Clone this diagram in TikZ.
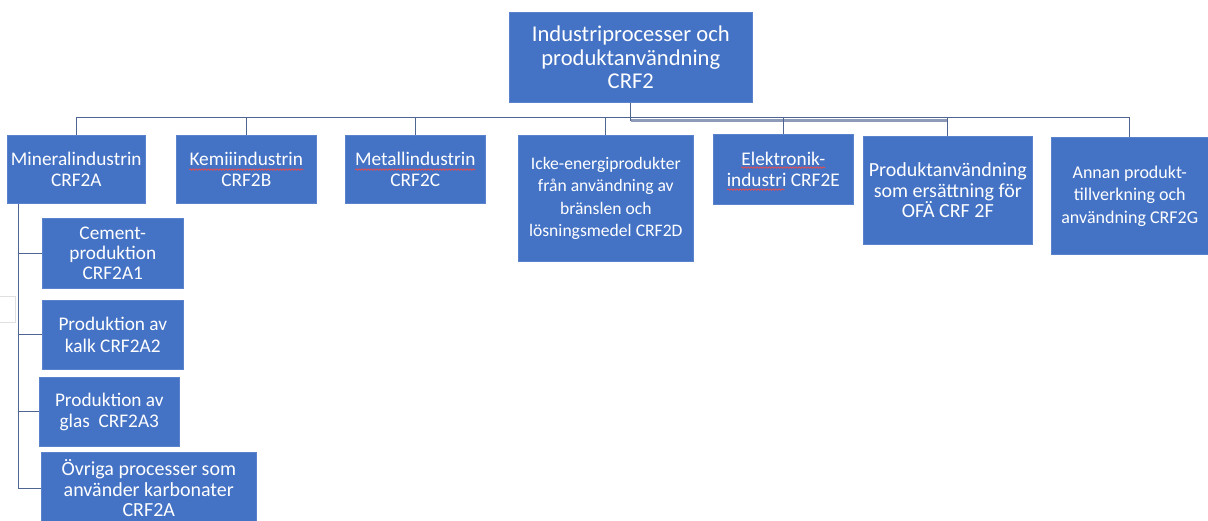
\documentclass[tikz,border=0pt]{standalone}
\usepackage{fontspec}
\setmainfont{Carlito}
\usetikzlibrary{calc,decorations.pathmorphing}
\definecolor{boxblue}{HTML}{4472C4}
\definecolor{boxedge}{HTML}{5B82CC}
\definecolor{connc}{HTML}{4E6491}
\definecolor{busgray}{HTML}{8E9BB8}
\definecolor{spellred}{HTML}{D8505A}
\tikzset{
  box/.style={draw=boxedge, line width=0.6pt, fill=boxblue, text=white, align=center,
    anchor=north west, inner sep=0pt, font=\fontsize{19.3}{21.5}\selectfont},
  topbox/.style={box, font=\fontsize{22.6}{23.8}\selectfont},
  conn/.style={draw=connc, line width=1pt},
  faint/.style={draw=black!12, line width=1pt},
  spellmark/.style={draw=spellred, line width=0.9pt, decorate,
    decoration={snake, amplitude=0.7pt, segment length=3pt}},
}
\begin{document}
\begin{tikzpicture}[x=1pt,y=-1pt]
\useasboundingbox (0,0) rectangle (1208,521);
% boxes
\node[topbox, minimum width=243pt, minimum height=90pt] (top) at (509,12)
  {Industriprocesser och\\produktanvändning\\CRF2};
\node[box, minimum width=138pt, minimum height=68pt] (min) at (7,135)
  {Mineralindustrin\\CRF2A};
\node[box, minimum width=140pt, minimum height=68pt] (kem) at (176,135)
  {Kemiiindustrin\\CRF2B};
\node[box, minimum width=140pt, minimum height=68pt] (met) at (345,135)
  {Metallindustrin\\CRF2C};
\node[box, minimum width=175pt, minimum height=126pt, font=\fontsize{17.6}{22.3}\selectfont] (ick) at (518,135)
  {Icke-energiprodukter\\från användning av\\bränslen och\\lösningsmedel CRF2D};
\node[box, minimum width=140pt, minimum height=70pt] (ele) at (713,134)
  {Elektronik-\\industri CRF2E};
\node[box, minimum width=169pt, minimum height=108pt, font=\fontsize{20}{20.5}\selectfont] (pro) at (863,136)
  {Produktanvändning\\som ersättning för\\OFÄ CRF 2F};
\node[box, minimum width=157pt, minimum height=117pt, font=\fontsize{18}{22.5}\selectfont] (ann) at (1051,137)
  {Annan produkt-\\tillverkning och\\användning CRF2G};
\node[box, minimum width=141pt, minimum height=70pt, font=\fontsize{19.3}{20.2}\selectfont] (cem) at (42,218)
  {Cement-\\produktion\\CRF2A1};
\node[box, minimum width=141pt, minimum height=69pt] (kal) at (42,300)
  {Produktion av\\kalk CRF2A2};
\node[box, minimum width=140pt, minimum height=69pt] (gla) at (39,377)
  {Produktion av\\glas~~CRF2A3};
\node[box, minimum width=215pt, minimum height=72pt, font=\fontsize{20}{20.5}\selectfont] (ovr) at (41,452)
  {Övriga processer som\\använder karbonater\\CRF2A};
% spell-check squiggles
\draw[spellmark] ($(kem.south)+(-57,-34)$) -- ++(114,0);
\draw[spellmark] ($(met.south)+(-60,-34)$) -- ++(120,0);
\draw[spellmark] ($(ele.south)+(-42,-37)$) -- ++(84,0);
\draw[spellmark] ($(ele.south)+(-56,-15)$) -- ++(57,0);
% bus
\coordinate (bus) at (0,118);
\coordinate (bus2) at (0,121);
\draw[draw=busgray, line width=3pt] (top.south |- bus2) -- (pro.north |- bus2);
\draw[conn] (top.south) -- (top.south |- bus2);
\draw[conn] (min.north |- bus) -- (ann.north |- bus);
\foreach \n in {min,kem,met,ick,ele,pro,ann}{
  \draw[conn] (\n.north |- bus) -- (\n.north);
}
% left subtree
\coordinate (trunk) at ($(min.south west)+(11,0)$);
\draw[conn] (trunk) |- (ovr.west);
\foreach \n in {cem,kal,gla}{
  \draw[conn] (trunk |- \n.west) -- (\n.west);
}
% faint stray frame
\draw[faint] (0,297) -- (15,297) -- (15,323) -- (0,323);
\end{tikzpicture}
\end{document}
